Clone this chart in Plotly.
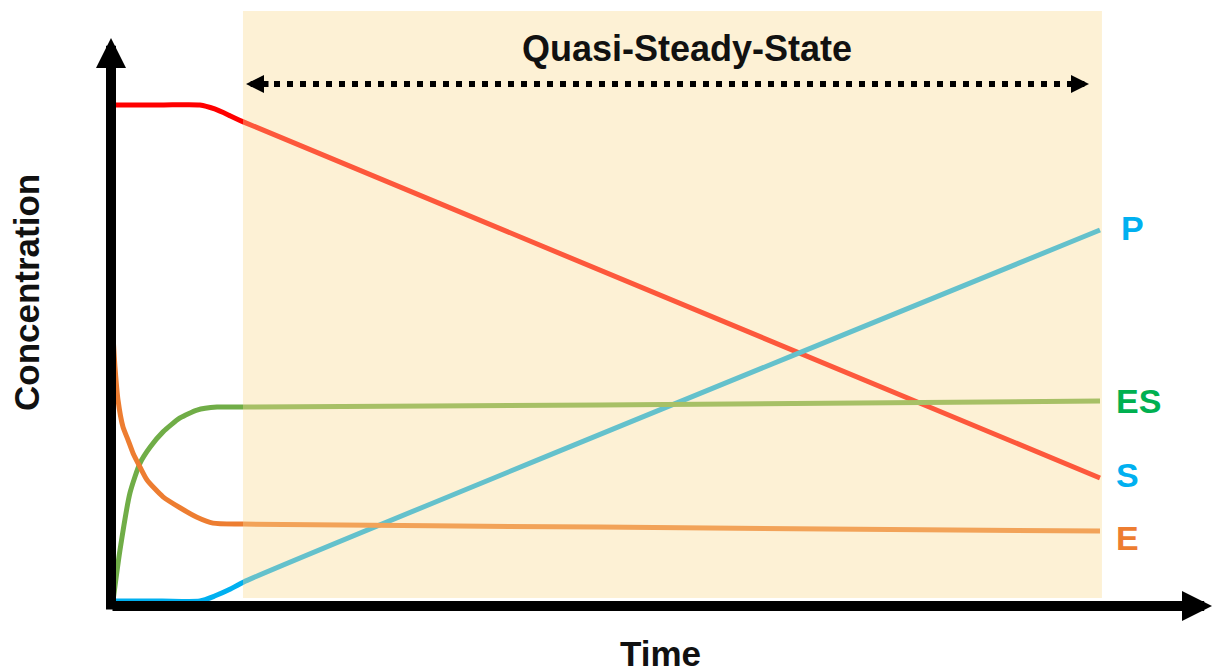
import plotly.graph_objects as go

# ---------------- data (time in arbitrary units, concentration in arbitrary units) -------------
t_S = [0.0, 0.5, 0.88, 1.03, 1.19, 1.32, 10.0]
c_S = [10.0, 10.0, 10.0, 9.92, 9.78, 9.66, 2.48]

t_P = [0.0, 0.5, 0.88, 1.03, 1.19, 1.32, 10.0]
c_P = [0.0, 0.0, 0.0, 0.10, 0.24, 0.38, 7.48]

t_ES = [0.0, 0.071, 0.172, 0.274, 0.375, 0.507, 0.679, 0.851, 1.054, 1.317, 4.93, 10.0]
c_ES = [0.0, 1.03, 2.18, 2.78, 3.10, 3.41, 3.69, 3.85, 3.91, 3.91, 3.95, 4.03]

t_E = [0.0, 0.020, 0.051, 0.101, 0.152, 0.203, 0.274, 0.345, 0.507, 0.679, 0.851, 1.013, 1.317, 4.93, 10.0]
c_E = [5.36, 4.72, 4.05, 3.51, 3.25, 2.98, 2.70, 2.44, 2.10, 1.88, 1.69, 1.57, 1.55, 1.49, 1.41]

qss_start, qss_end = 1.317, 10.02

series_names = ["S", "P", "ES", "E"]
line_colors = ["#FF0000", "#00B0F0", "#70AD47", "#ED7D31"]
label_colors = ["#00B0F0", "#00B0F0", "#00B050", "#ED7D31"]

W, H = 1212, 672
X0_PX, X_SCALE = 113.0, 98.7   # pixel of t=0, px per unit
Y0_PX, Y_SCALE = 601.0, 49.6   # pixel of c=0, px per unit


def px2x(p):
    return (p - X0_PX) / X_SCALE


def px2y(p):
    return (Y0_PX - p) / Y_SCALE


fig = go.Figure()
for name, tx, cy, col in zip(series_names, [t_S, t_P, t_ES, t_E], [c_S, c_P, c_ES, c_E], line_colors):
    fig.add_trace(go.Scatter(x=tx, y=cy, mode="lines", name=name,
                             line=dict(color=col, width=5, shape="spline", smoothing=0.6),
                             showlegend=False, hoverinfo="skip"))

shapes = [
    dict(type="rect", xref="x", yref="y", x0=qss_start, x1=qss_end, y0=px2y(598), y1=px2y(11),
         fillcolor="rgba(250,220,150,0.4)", line=dict(width=0), layer="above"),
    dict(type="line", xref="x", yref="y", x0=px2x(274), x1=px2x(1074), y0=px2y(84), y1=px2y(84),
         line=dict(color="#000000", width=6, dash="6px,7px"), layer="above"),
]

font_family = "Liberation Sans, Arial, sans-serif"
ann = []
# axes arrows
ann.append(dict(x=px2x(1212), y=px2y(606), ax=px2x(111), ay=px2y(606), xref="x", yref="y",
                axref="x", ayref="y", text="", showarrow=True, arrowhead=2, arrowsize=0.6,
                arrowwidth=10, arrowcolor="#000000"))
ann.append(dict(x=px2x(111), y=px2y(38), ax=px2x(111), ay=px2y(611), xref="x", yref="y",
                axref="x", ayref="y", text="", showarrow=True, arrowhead=2, arrowsize=0.6,
                arrowwidth=10, arrowcolor="#000000"))
# dotted arrow heads
ann.append(dict(x=px2x(246), y=px2y(84), ax=px2x(270), ay=px2y(84), xref="x", yref="y",
                axref="x", ayref="y", text="", showarrow=True, arrowhead=2, arrowsize=0.6,
                arrowwidth=6, arrowcolor="#000000"))
ann.append(dict(x=px2x(1089), y=px2y(84), ax=px2x(1068), ay=px2y(84), xref="x", yref="y",
                axref="x", ayref="y", text="", showarrow=True, arrowhead=2, arrowsize=0.6,
                arrowwidth=6, arrowcolor="#000000"))
# texts
ann.append(dict(x=px2x(687), y=px2y(48), xref="x", yref="y", text="<b>Quasi-Steady-State</b>",
                showarrow=False, font=dict(family=font_family, size=36, color="#111111")))
ann.append(dict(x=px2x(660), y=px2y(653), xref="x", yref="y", text="<b>Time</b>",
                showarrow=False, font=dict(family=font_family, size=35, color="#111111")))
ann.append(dict(x=px2x(26), y=px2y(293), xref="x", yref="y", text="<b>Concentration</b>",
                showarrow=False, textangle=-90, font=dict(family=font_family, size=35, color="#111111")))
label_pos = {"P": (1132, 228), "ES": (1138, 401), "S": (1127, 475), "E": (1127, 538)}
for name, col in zip(series_names, label_colors):
    px, py = label_pos[name]
    ann.append(dict(x=px2x(px), y=px2y(py), xref="x", yref="y", text="<b>%s</b>" % name,
                    showarrow=False, font=dict(family=font_family, size=34, color=col)))

fig.update_layout(
    width=W, height=H, margin=dict(l=0, r=0, t=0, b=0),
    paper_bgcolor="white", plot_bgcolor="white",
    xaxis=dict(range=[px2x(0), px2x(W)], visible=False, fixedrange=True),
    yaxis=dict(range=[px2y(H), px2y(0)], visible=False, fixedrange=True),
    shapes=shapes, annotations=ann,
)

fig.write_html("out.html", config={"displayModeBar": False},
               post_script="document.body.style.margin='0';")
